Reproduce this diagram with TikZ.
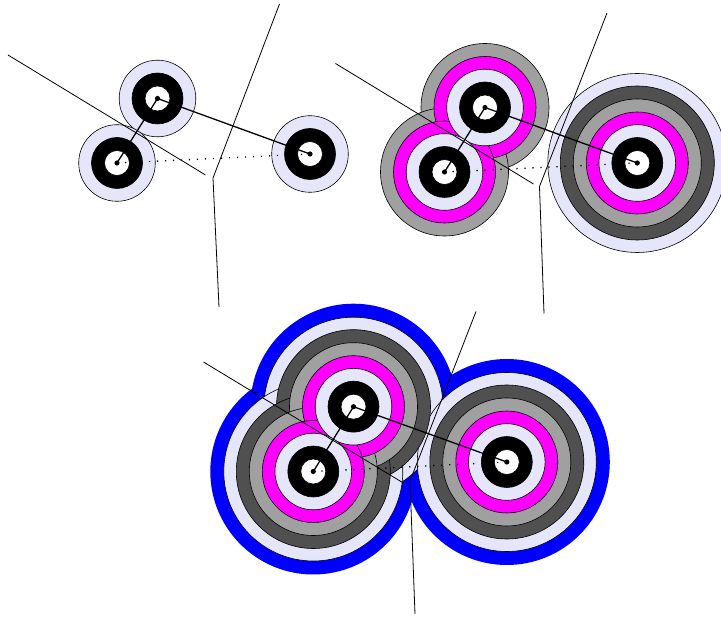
\documentclass[tikz,border=0pt]{standalone}
\definecolor{lav}{RGB}{230,230,250}
\definecolor{mag}{RGB}{255,0,255}
\definecolor{lgray}{RGB}{160,160,160}
\definecolor{dgray}{RGB}{80,80,80}
\definecolor{rblue}{RGB}{0,0,255}
\tikzset{
  bisector/.style={line width=0.8pt, black},
  link/.style={line width=1.3pt, black},
  dotlink/.style={line width=1.3pt, black, dash pattern=on 1.3pt off 6.7pt},
  cdot/.style={fill=black}
}
% #1 prefix, #2 levels for A and B, #3 levels for C
\newcommand\ringset[3]{%
  \foreach \k/\r/\c/\s in {8/103/rblue/none,7/89.5/lav/black,6/77/dgray/black,5/64/lgray/black,4/51/mag/black,3/38.3/lav/black,2/25.5/black/black,1/12.5/white/black}{%
    \ifnum\k>#2\else
      \path[fill=\c, draw=\s, line width=0.6pt] (#1B) circle[radius=\r];
      \path[fill=\c, draw=\s, line width=0.6pt] (#1A) circle[radius=\r];
    \fi
    \ifnum\k>#3\else
      \path[fill=\c, draw=\s, line width=0.6pt] (#1C) circle[radius=\r];
    \fi
  }%
  \draw[bisector] (#1L1s) -- (#1L1e);
  \draw[bisector] (#1L2s) -- (#1V) -- (#1L3e);
  \draw[link] (#1A) -- (#1B) -- (#1C);
  \draw[dotlink] (#1A) -- (#1C);
  \foreach \p in {A,B,C}{\fill[cdot] (#1\p) circle[radius=2.6];}
}
\begin{document}
\begin{tikzpicture}[x=1pt,y=-1pt]
\useasboundingbox (0,0) rectangle (721,617);
\clip (0,0) rectangle (721,617);
% panel 1
\coordinate (pA) at (117,163);
\coordinate (pB) at (157.5,98.5);
\coordinate (pC) at (310,154);
\coordinate (pL1s) at (8,55);
\coordinate (pL1e) at (205.5,175);
\coordinate (pL2s) at (279.5,4);
\coordinate (pV) at (213,178);
\coordinate (pL3e) at (219,307);
\ringset{p}{3}{3}
% panel 2
\coordinate (qA) at (444.5,172);
\coordinate (qB) at (485,107.5);
\coordinate (qC) at (637.3,163);
\coordinate (qL1s) at (335.5,63.5);
\coordinate (qL1e) at (533.5,184);
\coordinate (qL2s) at (607,13);
\coordinate (qV) at (539.5,186.5);
\coordinate (qL3e) at (544,313.5);
\ringset{q}{5}{7}
% panel 3
\coordinate (rA) at (313.3,471.5);
\coordinate (rB) at (353.5,406.7);
\coordinate (rC) at (506.8,462);
\coordinate (rL1s) at (203.5,362);
\coordinate (rL1e) at (402.5,482.5);
\coordinate (rL2s) at (476,311.5);
\coordinate (rV) at (410,481);
\coordinate (rL3e) at (415,614);
\ringset{r}{8}{8}
\end{tikzpicture}
\end{document}
